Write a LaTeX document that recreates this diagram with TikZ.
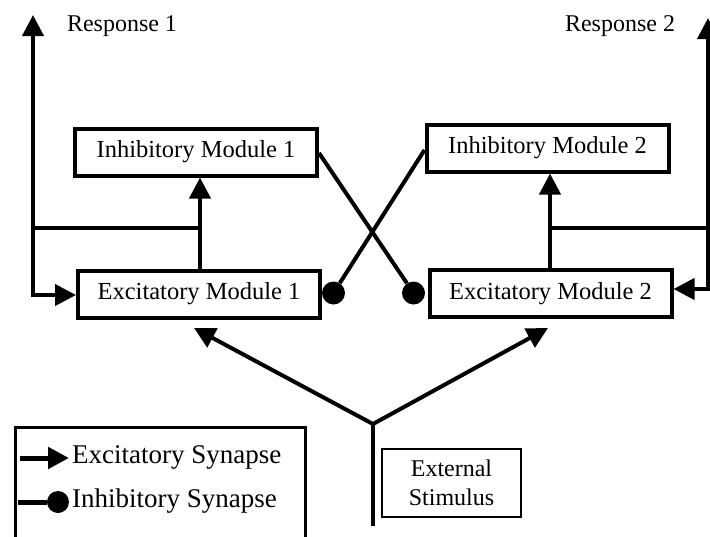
\documentclass[tikz,border=0pt]{standalone}
\usepackage{fontspec}
\setmainfont{Liberation Serif}
\usetikzlibrary{arrows.meta,calc}
\begin{document}
\begin{tikzpicture}[x=1pt,y=-1pt,
  wire/.style={line width=4pt,line join=miter},
  exc/.style={wire,-{Triangle[length=21pt,width=21pt]}},
  module/.style={draw,line width=4pt,minimum width=242pt,minimum height=47pt,
    inner sep=0pt,font=\fontsize{24.5}{28}\selectfont},
  dot/.style={circle,fill,inner sep=0pt,minimum size=23pt},
  smalldot/.style={circle,fill,inner sep=0pt,minimum size=22pt},
  lbl/.style={inner sep=0pt,font=\fontsize{24}{28}\selectfont},
  legendtext/.style={inner sep=0pt,anchor=west,font=\fontsize{27}{30}\selectfont}
]
\clip (0,0) rectangle (710,536);

% modules
\node[module] (I1) at (196,152) {Inhibitory Module 1};
\node[module] (E1) at (199,294) {Excitatory Module 1};
\node[module] (I2) at (547.5,148) {Inhibitory Module 2};
\node[module] (E2) at (550.5,293.5) {Excitatory Module 2};

% responses
\node[lbl] (R1) at (122,26) {Response 1};
\node[lbl] (R2) at (620,26) {Response 2};

% branch points
\coordinate (r1) at (33,15);
\coordinate (b1) at (33,228);
\coordinate (c1) at (200,228);
\coordinate (r2) at (708,18);
\coordinate (b2) at (708,228);
\coordinate (c2) at (550,228);

% excitatory feedback, left
\draw[exc] (E1.north -| c1) -- (I1.south -| c1);
\draw[wire] (c1) -- (b1);
\draw[exc] (b1) -- (r1);
\draw[exc] (b1) |- ($(E1.west)+(0,1)$);

% excitatory feedback, right
\draw[exc] (E2.north -| c2) -- (I2.south -| c2);
\draw[wire] (c2) -- (b2);
\draw[exc] (b2) -- (r2);
\draw[exc] (b2) |- ($(E2.east)+(0,-4.5)$);

% cross inhibition
\node[dot] (d1) at (333.5,293) {};
\node[dot] (d2) at (413.5,293) {};
\draw[wire] ($(I1.east)+(0,1)$) -- (d2);
\draw[wire] (d1) -- ($(I2.west)+(0,2)$);

% external stimulus
\node[draw,line width=2pt,minimum width=139pt,minimum height=68pt,inner sep=0pt,
  align=center,font=\fontsize{24}{29}\selectfont] (S) at (451.5,483) {External\\Stimulus};
\coordinate (j) at (373,424);
\coordinate (sb) at (373,526);
\coordinate (s1) at (194,328);
\coordinate (s2) at (548,328);
\draw[wire] (sb) -- (j);
\draw[wire,{Triangle[length=21pt,width=21pt]}-{Triangle[length=21pt,width=21pt]}] (s1) -- (j) -- (s2);

% legend
\node[draw,line width=3pt,minimum width=290pt,minimum height=125pt,inner sep=0pt,
  anchor=north west] (L) at (14,426) {};
\coordinate (la) at (20,458);
\coordinate (lb) at (69,458);
\draw[line width=5pt,-{Triangle[length=21pt,width=21pt]}] (la) -- (lb);
\node[legendtext] (LE) at (72,457) {Excitatory Synapse};
\coordinate (lc) at (18,502);
\node[smalldot] (ld) at (58,502) {};
\draw[line width=5pt] (lc) -- (ld);
\node[legendtext] (LI) at (72,501) {Inhibitory Synapse};
\end{tikzpicture}
\end{document}
